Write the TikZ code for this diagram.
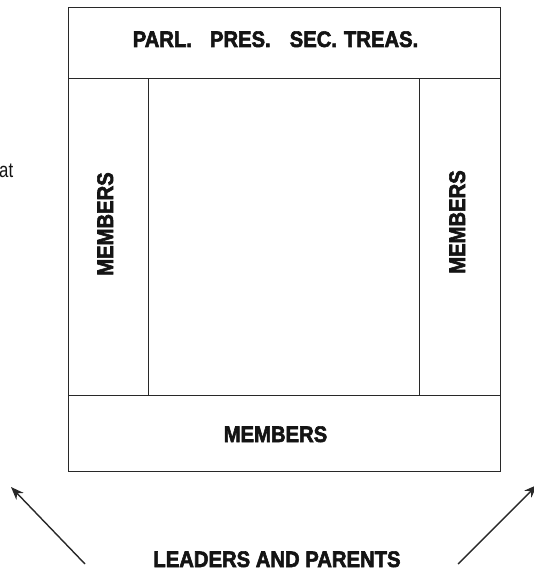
\documentclass[tikz,border=0pt]{standalone}
\usepackage{fontspec}
\usepackage{tikz}
\usetikzlibrary{positioning,arrows.meta}
\newfontfamily\hdfont[FakeStretch=0.9,FakeBold=2.5]{Liberation Sans Bold}
\newfontfamily\txtfont[FakeStretch=0.8]{Liberation Sans}
\definecolor{cline}{RGB}{40,40,40}
\definecolor{ctext}{RGB}{20,20,20}

\begin{document}
\begin{tikzpicture}[x=1pt,y=-1pt,
  lab/.style={font=\hdfont\fontsize{22.5}{26}\selectfont,text=ctext,inner sep=0},
  cell/.style={rectangle,draw=cline,line width=0.9pt,inner sep=0,outer sep=0},
  a/.style={-{Stealth[length=13pt,width=10pt]},cline,line width=1.4pt},
]
\useasboundingbox (0,0) rectangle (533,572);
% --- council frame ---
\node[cell,minimum width=432pt,minimum height=71pt,anchor=north west] (top) at (68,7) {};
\node[cell,minimum width=80pt,minimum height=317pt,below right=0pt and 0pt of top.south west] (lcol) {};
\node[cell,minimum width=271pt,minimum height=317pt,right=0pt of lcol] (mid) {};
\node[cell,minimum width=81pt,minimum height=317pt,right=0pt of mid] (rcol) {};
\node[cell,minimum width=432pt,minimum height=76pt,below right=0pt and 0pt of lcol.south west] (bot) {};
% --- labels ---
\node[lab,anchor=base] (offc) at (275.5,47) {PARL.\hspace{18pt}PRES.\hspace{19pt}SEC.\hspace{7pt}TREAS.};
\node[lab,anchor=base,rotate=90] (lmem) at (113,224) {MEMBERS};
\node[lab,anchor=base,rotate=90] (rmem) at (465,222) {MEMBERS};
\node[lab,anchor=base] (bmem) at (275.5,442) {MEMBERS};
\node[lab,anchor=base] (lp) at (277,567) {LEADERS AND PARENTS};
\node[font=\txtfont\fontsize{21}{24}\selectfont,text=ctext,inner sep=0,anchor=base west] (frag) at (-1,178) {at};
% --- arrows ---
\coordinate (lt) at (85,564); \coordinate (lh) at (11,487);
\coordinate (rt) at (458,564); \coordinate (rh) at (537,485);
\draw[a] (lt) -- (lh);
\draw[a] (rt) -- (rh);
\end{tikzpicture}
\end{document}
